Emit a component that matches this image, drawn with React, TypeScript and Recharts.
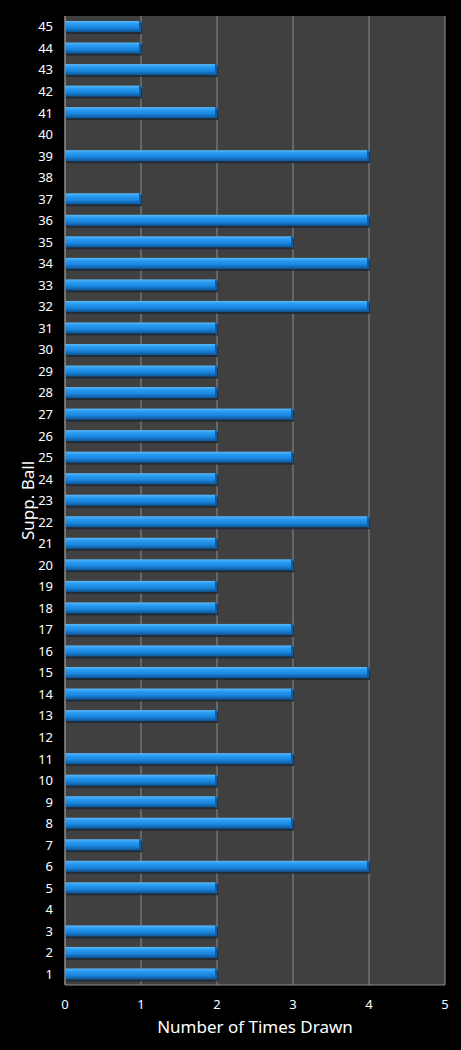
import React from "react";
import {
  Bar,
  BarChart,
  CartesianGrid,
  Label,
  XAxis,
  YAxis,
} from "recharts";

const balls = Array.from({ length: 45 }, (_, i) => String(i + 1));

// times drawn for balls 1..45
const timesDrawn = [
  2, 2, 2, 0, 2, 4, 1, 3, 2, 2,
  3, 0, 2, 3, 4, 3, 3, 2, 2, 3,
  2, 4, 2, 2, 3, 2, 3, 2, 2, 2,
  2, 4, 2, 4, 3, 4, 1, 0, 4, 0,
  2, 1, 2, 1, 1,
];

const xTicks = [0, 1, 2, 3, 4, 5];

const data = balls.map((ball, i) => ({ ball, times: timesDrawn[i] }));

const font = "'Noto Sans', 'Open Sans', sans-serif";

function BarShape(props: any) {
  const { x, y, width, height } = props;
  if (!width || width <= 0) return null;
  return (
    <g>
      <rect x={x + 1} y={y + 2} width={width} height={height} fill="#1b2733" opacity={0.8} />
      <rect x={x} y={y} width={width} height={height} fill="url(#barGrad)" />
      <rect x={x + width - 2} y={y} width={2} height={height} fill="#0f5ea8" />
    </g>
  );
}

export default function App() {
  return (
    <div style={{ position: "absolute", left: 0, top: 0, width: 461, height: 1050, background: "#000" }}>
      <BarChart
        width={461}
        height={1050}
        data={data}
        layout="vertical"
        margin={{ top: 16, right: 16, bottom: 35, left: 0 }}
        barSize={11}
      >
        <defs>
          <linearGradient id="barGrad" x1="0" y1="0" x2="0" y2="1">
            <stop offset="0%" stopColor="#5cb8f7" />
            <stop offset="25%" stopColor="#2a9cf2" />
            <stop offset="60%" stopColor="#1b87e0" />
            <stop offset="100%" stopColor="#0d5596" />
          </linearGradient>
        </defs>
        <CartesianGrid horizontal={false} stroke="#8c8c8c" fill="#404040" />
        <XAxis
          type="number"
          domain={[0, 5]}
          ticks={xTicks}
          tickLine={false}
          axisLine={{ stroke: "#8c8c8c" }}
          tickMargin={9}
          tick={{ fill: "#ffffff", fontSize: 13, fontFamily: font }}
        >
          <Label
            value="Number of Times Drawn"
            position="bottom"
            offset={6}
            fill="#ffffff"
            fontSize={17}
            fontFamily={font}
          />
        </XAxis>
        <YAxis
          type="category"
          dataKey="ball"
          reversed
          width={65}
          interval={0}
          tickLine={false}
          axisLine={{ stroke: "#8c8c8c" }}
          tickMargin={6}
          tick={{ fill: "#ffffff", fontSize: 13, fontFamily: font }}
        >
          <Label
            content={(p: any) => {
              const vb = p.viewBox || {};
              const cx = (vb.x ?? 0) + 27;
              const cy = (vb.y ?? 0) + (vb.height ?? 0) / 2;
              return (
                <text
                  x={cx}
                  y={cy}
                  transform={`rotate(-90 ${cx} ${cy})`}
                  textAnchor="middle"
                  dominantBaseline="central"
                  fill="#ffffff"
                  fontSize={17}
                  fontFamily={font}
                >
                  Supp. Ball
                </text>
              );
            }}
          />
        </YAxis>
        <Bar dataKey="times" isAnimationActive={false} shape={BarShape} />
      </BarChart>
    </div>
  );
}
